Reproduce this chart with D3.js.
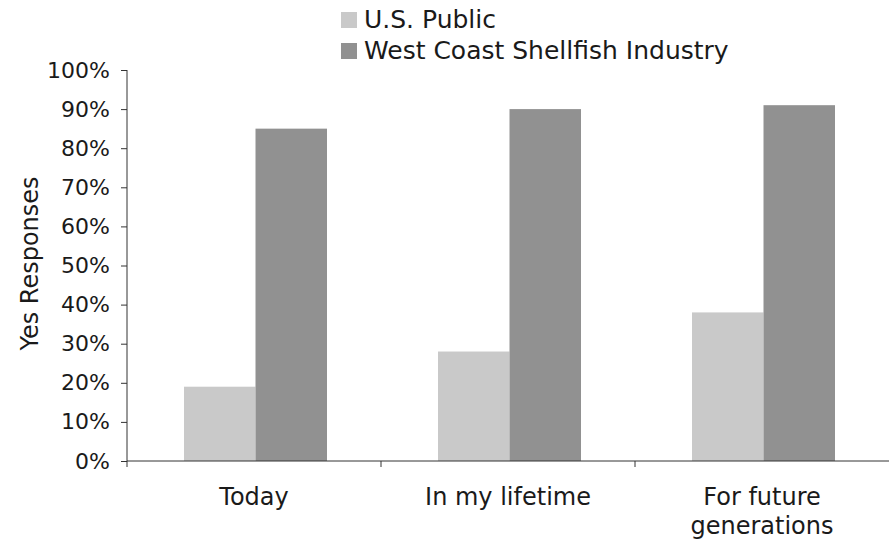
<!DOCTYPE html>
<html>
<head>
<meta charset="utf-8">
<script src="https://cdn.jsdelivr.net/npm/d3@7"></script>
<style>
  body { margin: 0; background: #fff; }
  text { font-family: "DejaVu Sans", Verdana, sans-serif; fill: #1a1a1a; }
</style>
</head>
<body>
<script>
// data
var categories = ["Today", "In my lifetime", "For future generations"];
var seriesNames = ["U.S. Public", "West Coast Shellfish Industry"];
var usPublic = [19, 28, 38];
var shellfish = [85, 90, 91];
var yTicks = [0, 10, 20, 30, 40, 50, 60, 70, 80, 90, 100];

var colors = ["#c9c9c9", "#919191"];

var W = 894, H = 540;
var margin = { top: 70, right: 5, bottom: 79, left: 127 };
var width = W - margin.left - margin.right;
var height = H - margin.top - margin.bottom;

var svg = d3.select("body").append("svg")
  .attr("width", W)
  .attr("height", H);

var g = svg.append("g")
  .attr("transform", "translate(" + margin.left + "," + margin.top + ")");

var x0 = d3.scaleBand().domain(categories).range([0, width]).paddingInner(0).paddingOuter(0);
var x1 = d3.scaleBand().domain(seriesNames).range([57, x0.bandwidth() - 54]);
var y = d3.scaleLinear().domain([0, 100]).range([height, 0]);

var rows = categories.map(function(c, i) {
  return { cat: c, vals: [usPublic[i], shellfish[i]] };
});

// bars
var groups = g.selectAll(".grp").data(rows).enter().append("g")
  .attr("transform", function(d) { return "translate(" + x0(d.cat) + ",0)"; });

groups.selectAll("rect").data(function(d) {
  return d.vals.map(function(v, i) { return { s: seriesNames[i], v: v, i: i }; });
}).enter().append("rect")
  .attr("x", function(d) { return x1(d.s); })
  .attr("width", x1.bandwidth())
  .attr("y", function(d) { return y(d.v); })
  .attr("height", function(d) { return height - y(d.v); })
  .attr("fill", function(d) { return colors[d.i]; });

// y axis
var yAxis = d3.axisLeft(y).tickValues(yTicks).tickSize(6)
  .tickFormat(function(d) { return d + "%"; });
var ya = g.append("g").call(yAxis);
ya.select(".domain").attr("stroke", "#333").attr("d", "M0,0V" + height);
ya.selectAll(".tick line").attr("stroke", "#333");
ya.selectAll(".tick text").attr("x", -17).style("font-size", "22px").attr("fill", "#1a1a1a");

// x axis
var xa = g.append("g").attr("transform", "translate(0," + height + ")");
xa.append("line").attr("x1", 0).attr("x2", width).attr("stroke", "#333");
xa.selectAll(".xt").data(categories).enter().append("line")
  .attr("x1", function(d) { return x0(d); })
  .attr("x2", function(d) { return x0(d); })
  .attr("y1", 0).attr("y2", 6).attr("stroke", "#333");

var labels = { "Today": ["Today"], "In my lifetime": ["In my lifetime"],
  "For future generations": ["For future", "generations"] };
xa.selectAll(".xl").data(categories).enter().append("text")
  .attr("text-anchor", "middle")
  .style("font-size", "24px")
  .attr("transform", function(d) { return "translate(" + (x0(d) + x0.bandwidth() / 2) + ",44)"; })
  .each(function(d) {
    var t = d3.select(this);
    labels[d].forEach(function(line, i) {
      t.append("tspan").attr("x", 0).attr("dy", i === 0 ? 0 : 29).text(line);
    });
  });

// y label
svg.append("text")
  .attr("transform", "translate(38," + (margin.top + height / 2 - 2) + ") rotate(-90)")
  .attr("text-anchor", "middle")
  .style("font-size", "24px")
  .text("Yes Responses");

// legend
var legend = svg.append("g").attr("transform", "translate(341,0)");
seriesNames.forEach(function(s, i) {
  var lg = legend.append("g").attr("transform", "translate(0," + (i * 31) + ")");
  lg.append("rect").attr("width", 16).attr("height", 16).attr("y", 12).attr("fill", colors[i]);
  lg.append("text").attr("x", 23).attr("y", 28).style("font-size", "25px").text(s);
});
</script>
</body>
</html>
